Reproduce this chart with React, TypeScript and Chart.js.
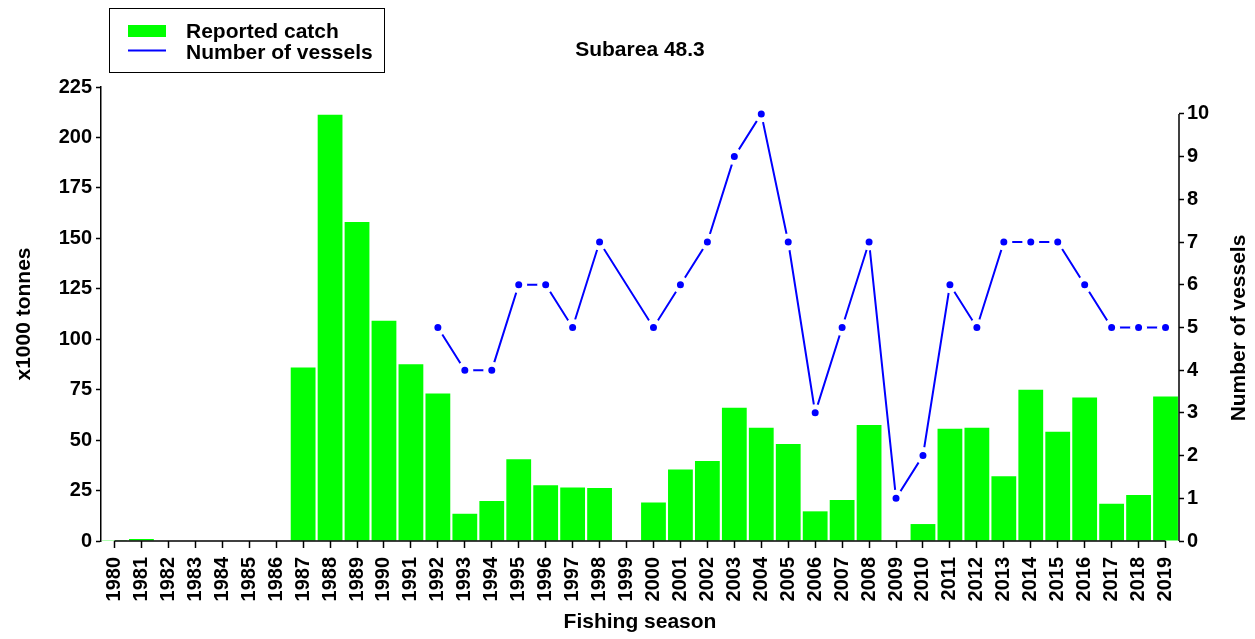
import React, { useEffect, useRef } from 'react';
import { Chart, registerables } from 'chart.js';

Chart.register(...registerables);

const seasons = [
  '1980', '1981', '1982', '1983', '1984', '1985', '1986', '1987', '1988', '1989',
  '1990', '1991', '1992', '1993', '1994', '1995', '1996', '1997', '1998', '1999',
  '2000', '2001', '2002', '2003', '2004', '2005', '2006', '2007', '2008', '2009',
  '2010', '2011', '2012', '2013', '2014', '2015', '2016', '2017', '2018', '2019',
];

// Reported catch (x1000 tonnes)
const reportedCatch = [
  0.4, 1, 0, 0, 0, 0, 0, 86.0, 211.3, 158.1,
  109.1, 87.6, 73.1, 13.5, 19.8, 40.5, 27.6, 26.5, 26.3, 0,
  19.1, 35.4, 39.7, 66.0, 56.1, 48.1, 14.7, 20.3, 57.5, 0,
  8.4, 55.6, 56.1, 32.1, 74.9, 54.1, 71.1, 18.4, 22.8, 71.6,
];

// Number of vessels
const vessels: (number | null)[] = [
  null, null, null, null, null, null, null, null, null, null,
  null, null, 5, 4, 4, 6, 6, 5, 7, null,
  5, 6, 7, 9, 10, 7, 3, 5, 7, 1,
  2, 6, 5, 7, 7, 7, 6, 5, 5, 5,
];

const catchTickMax = 225;
const catchTickStep = 25;
const vesselTickMax = 10;
const vesselAxisMax = 10.63;

const chartTitle = 'Subarea 48.3';
const catchLabel = 'Reported catch';
const vesselLabel = 'Number of vessels';
const xTitle = 'Fishing season';
const yTitle = 'x1000 tonnes';
const y1Title = 'Number of vessels';

const FONT = '"Liberation Sans", Arial, sans-serif';
const GREEN = '#00FF00';
const BLUE = '#0000FF';

const decorPlugin = {
  id: 'decor',
  afterDraw(chart: any) {
    const ctx = chart.ctx as CanvasRenderingContext2D;
    const xs = chart.scales.x;
    const ys = chart.scales.y;
    const y1s = chart.scales.y1;
    const area = chart.chartArea;
    ctx.save();
    ctx.strokeStyle = '#000';
    ctx.lineWidth = 1.5;
    // x axis line (first tick to last tick)
    const base = ys.getPixelForValue(0);
    ctx.beginPath();
    ctx.moveTo(xs.getPixelForTick(0), base);
    ctx.lineTo(xs.getPixelForTick(seasons.length - 1), base);
    ctx.stroke();
    // right axis line (0 to 10)
    ctx.beginPath();
    ctx.moveTo(area.right, y1s.getPixelForValue(0));
    ctx.lineTo(area.right, y1s.getPixelForValue(vesselTickMax));
    ctx.stroke();

    // right axis title (reads bottom to top)
    ctx.fillStyle = '#000';
    ctx.font = `bold 21px ${FONT}`;
    ctx.textAlign = 'center';
    ctx.textBaseline = 'middle';
    ctx.save();
    ctx.translate(1239, 328);
    ctx.rotate(-Math.PI / 2);
    ctx.fillText(y1Title, 0, 0);
    ctx.restore();

    // chart title
    ctx.font = `bold 21px ${FONT}`;
    ctx.fillText(chartTitle, (area.left + area.right) / 2, 50);

    // legend
    ctx.lineWidth = 1;
    ctx.strokeStyle = '#000';
    ctx.strokeRect(109.5, 8.5, 275, 64);
    ctx.fillStyle = GREEN;
    ctx.fillRect(128, 25, 38, 12);
    ctx.strokeStyle = BLUE;
    ctx.lineWidth = 2;
    ctx.beginPath();
    ctx.moveTo(128, 50.5);
    ctx.lineTo(166, 50.5);
    ctx.stroke();
    ctx.fillStyle = '#000';
    ctx.font = `bold 21px ${FONT}`;
    ctx.textAlign = 'left';
    ctx.fillText(catchLabel, 186, 32);
    ctx.fillText(vesselLabel, 186, 53);
    ctx.restore();
  },
};

export default function App() {
  const ref = useRef<HTMLCanvasElement | null>(null);
  useEffect(() => {
    if (!ref.current) return;
    const chart = new Chart(ref.current, {
      type: 'bar',
      data: {
        labels: seasons,
        datasets: [
          {
            type: 'bar',
            label: catchLabel,
            data: reportedCatch,
            backgroundColor: GREEN,
            borderWidth: 0,
            yAxisID: 'y',
            categoryPercentage: 1,
            barPercentage: 0.92,
            order: 2,
          },
          {
            type: 'line',
            label: vesselLabel,
            data: vessels,
            borderColor: BLUE,
            borderWidth: 2,
            backgroundColor: BLUE,
            pointBackgroundColor: BLUE,
            pointBorderColor: '#FFFFFF',
            pointBorderWidth: 5,
            pointRadius: 6,
            spanGaps: true,
            tension: 0,
            yAxisID: 'y1',
            order: 1,
          } as any,
        ],
      },
      options: {
        responsive: false,
        animation: false,
        layout: { padding: { top: 87, left: 0, right: 0, bottom: 0 } },
        plugins: {
          legend: { display: false },
          title: { display: false },
          tooltip: { enabled: false },
        },
        scales: {
          x: {
            offset: true,
            grid: {
              offset: false,
              drawOnChartArea: false,
              drawTicks: true,
              tickLength: 7,
              tickColor: '#000',
              tickWidth: 1.5,
            },
            border: { display: false },
            ticks: {
              autoSkip: false,
              minRotation: 90,
              maxRotation: 90,
              padding: 9,
              color: '#000',
              font: { family: FONT, size: 20, weight: 'bold' },
            },
            title: {
              display: true,
              text: xTitle,
              color: '#000',
              font: { family: FONT, size: 21, weight: 'bold' },
              padding: { top: 0, bottom: 4 },
            },
            afterFit: (s: any) => { s.height = 98; },
          },
          y: {
            position: 'left',
            min: 0,
            max: catchTickMax,
            grid: {
              drawOnChartArea: false,
              drawTicks: true,
              tickLength: 5,
              tickColor: '#000',
              tickWidth: 1.5,
            },
            border: { display: true, color: '#000', width: 1.5 },
            ticks: {
              stepSize: catchTickStep,
              padding: 4,
              color: '#000',
              font: { family: FONT, size: 20, weight: 'bold' },
            },
            title: {
              display: true,
              text: yTitle,
              color: '#000',
              font: { family: FONT, size: 21, weight: 'bold' },
              padding: { top: 12, bottom: 0 },
            },
            afterFit: (s: any) => { s.width = 101; },
          },
          y1: {
            position: 'right',
            min: 0,
            max: vesselAxisMax,
            grid: {
              drawOnChartArea: false,
              drawTicks: true,
              tickLength: 5,
              tickColor: '#000',
              tickWidth: 1.5,
            },
            border: { display: false },
            ticks: {
              stepSize: 1,
              padding: 3,
              color: '#000',
              font: { family: FONT, size: 20, weight: 'bold' },
            },
            afterBuildTicks: (s: any) => {
              s.ticks = s.ticks.filter((t: any) => Number.isInteger(t.value) && t.value <= vesselTickMax);
            },
            afterFit: (s: any) => { s.width = 76; },
          },
        },
      },
      plugins: [decorPlugin],
    });
    return () => chart.destroy();
  }, []);
  return (
    <div style={{ position: 'absolute', left: 0, top: 0, width: 1255, height: 639, background: '#fff' }}>
      <canvas ref={ref} width={1255} height={639} />
    </div>
  );
}
